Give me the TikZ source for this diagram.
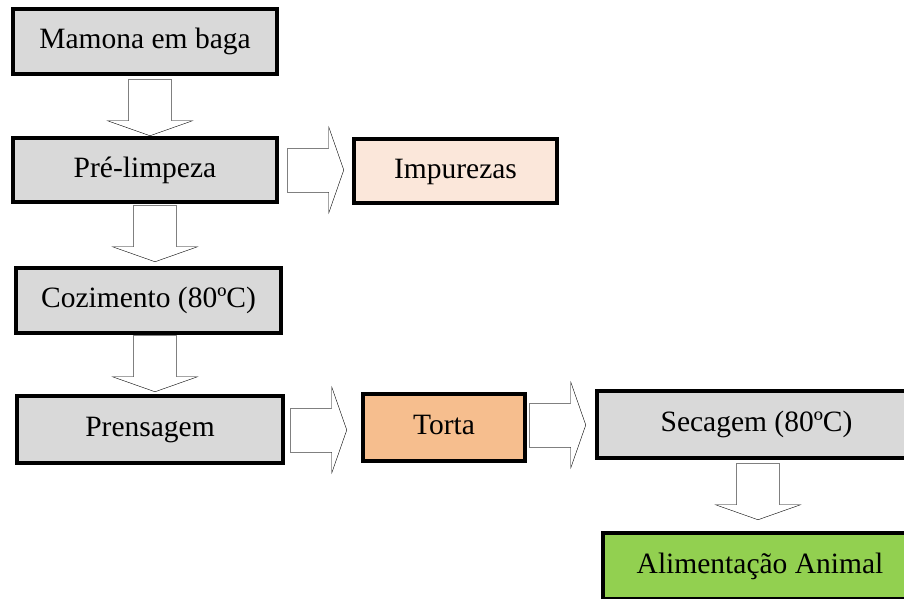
\documentclass[tikz,border=0pt]{standalone}
\usepackage{fontspec}
\setmainfont{Liberation Serif}
\usetikzlibrary{calc}
\definecolor{boxgray}{HTML}{D9D9D9}
\definecolor{boxpeach}{HTML}{FBE7DA}
\definecolor{boxorange}{HTML}{F6BE8E}
\definecolor{boxgreen}{HTML}{92D050}

\begin{document}
\begin{tikzpicture}[x=1pt, y=-1pt,
  box/.style={draw, line width=4.5pt, fill=boxgray, inner sep=0pt,
    text height=20pt, text depth=6pt,
    font=\fontsize{29.5}{34}\selectfont},
  downarr/.pic={
    \draw[gray, fill=white] (-21.5,-15) -- (-21.5,-57) -- (21.5,-57) -- (21.5,-15);
    \draw[fill=white] (21.5,-15) -- (42.5,-15) -- (0,0) -- (-42.5,-15) -- (-21.5,-15);
  },
  rightarr/.pic={
    \draw[gray, fill=white] (-15,-22) -- (-57,-22) -- (-57,22) -- (-15,22);
    \draw[fill=white] (-15,22) -- (-15,43) -- (0,0) -- (-15,-43) -- (-15,-22);
  }]
\useasboundingbox (0,0) rectangle (904,598);
\clip (0,0) rectangle (904,598);

\node[box, minimum width=264, minimum height=65] (mamona) at (145,41.5) {Mamona em baga};
\node[box, minimum width=264, minimum height=64] (prelimp) at (145,170) {Pré-limpeza};
\node[box, fill=boxpeach, minimum width=203, minimum height=64] (impur) at (455.5,171) {Impurezas};
\node[box, minimum width=265, minimum height=65] (cozim) at (148.5,300.5) {Cozimento (80ºC)};
\node[box, minimum width=266, minimum height=67] (prensa) at (150,429.5) {Prensagem};
\node[box, fill=boxorange, minimum width=162, minimum height=67] (torta) at (444,427.5) {Torta};
\node[box, minimum width=319, minimum height=67] (secag) at (756.5,424.5) {Secagem (80ºC)};
\node[box, fill=boxgreen, minimum width=314, minimum height=66] (alim) at (760,566) {Alimentação Animal};

% setas
\pic at ($(prelimp.north)+(5,0)$) {downarr};
\pic at ($(impur.west)+(-8,-1)$) {rightarr};
\pic at ($(cozim.north)+(6.5,-4)$) {downarr};
\pic at ($(prensa.north)+(5,-2)$) {downarr};
\pic at ($(torta.west)+(-14,2.5)$) {rightarr};
\pic at ($(secag.west)+(-9,0.5)$) {rightarr};
\pic at ($(alim.north)+(-2,-11)$) {downarr};

\end{tikzpicture}
\end{document}
